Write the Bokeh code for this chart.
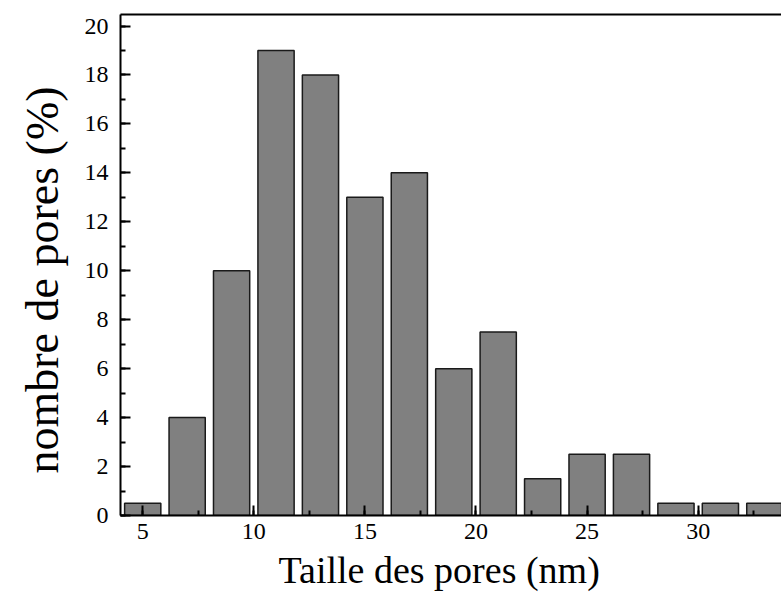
from bokeh.plotting import figure
from bokeh.models import Range1d, LinearAxis, SingleIntervalTicker, FixedTicker, ColumnDataSource, Title
from bokeh.embed import file_html
from bokeh.resources import INLINE

pore_size = [5, 7, 9, 11, 13, 15, 17, 19, 21, 23, 25, 27, 29, 31, 33]
pore_pct = [0.5, 4, 10, 19, 18, 13, 14, 6, 7.5, 1.5, 2.5, 2.5, 0.5, 0.5, 0.5]
x_title = "Taille des pores (nm)"
y_title = "nombre de pores (%)"

FONT = "Liberation Serif"

src = ColumnDataSource(dict(x=pore_size, top=pore_pct))

xa = LinearAxis(ticker=SingleIntervalTicker(interval=5, num_minor_ticks=2),
                major_label_text_font=FONT, major_label_text_font_size="24px",
                major_label_text_color="#000000")
ya = LinearAxis(ticker=SingleIntervalTicker(interval=2, num_minor_ticks=2),
                major_label_text_font=FONT, major_label_text_font_size="24px",
                major_label_text_color="#000000")

p = figure(width=781, height=606, output_backend="svg", toolbar_location=None,
           x_range=Range1d(4.0, 33.75), y_range=Range1d(0, 20.47),
           x_axis_location=None, y_axis_location=None,
           min_border_left=112, min_border_top=14, min_border_right=0, min_border_bottom=91)
p.add_layout(xa, "below")
p.add_layout(ya, "left")
p.grid.visible = False
p.outline_line_color = None
p.background_fill_color = "white"
p.border_fill_color = "white"

p.vbar(x="x", top="top", width=1.63, bottom=0, source=src,
       fill_color="#808080", line_color="#1a1a1a", line_width=1.5)

for ax in (xa, ya):
    ax.axis_line_width = 2
    ax.axis_line_color = "black"
    ax.major_tick_in = 10
    ax.major_tick_out = 0
    ax.minor_tick_in = 5
    ax.minor_tick_out = 0
    ax.major_tick_line_width = 2
    ax.minor_tick_line_width = 2

xa.major_label_standoff = 8
ya.major_label_standoff = 12

top = LinearAxis(ticker=FixedTicker(ticks=[]))
top.axis_line_width = 2
top.axis_line_color = "black"
top.major_tick_line_color = None
top.minor_tick_line_color = None
top.major_label_standoff = 0
top.major_tick_out = 0
top.major_tick_in = 0
p.add_layout(top, "above")

# axis titles as side-panel titles so they can be offset like the reference
xt = Title(text=x_title, align="left", offset=158, standoff=10,
           text_font=FONT, text_font_size="38px", text_font_style="normal",
           text_color="black")
yt = Title(text=y_title, align="left", offset=42, standoff=28,
           text_font=FONT, text_font_size="46px", text_font_style="normal",
           text_color="black")
p.add_layout(xt, "below")
p.add_layout(yt, "left")

open("out.html", "w").write(file_html(p, INLINE))
